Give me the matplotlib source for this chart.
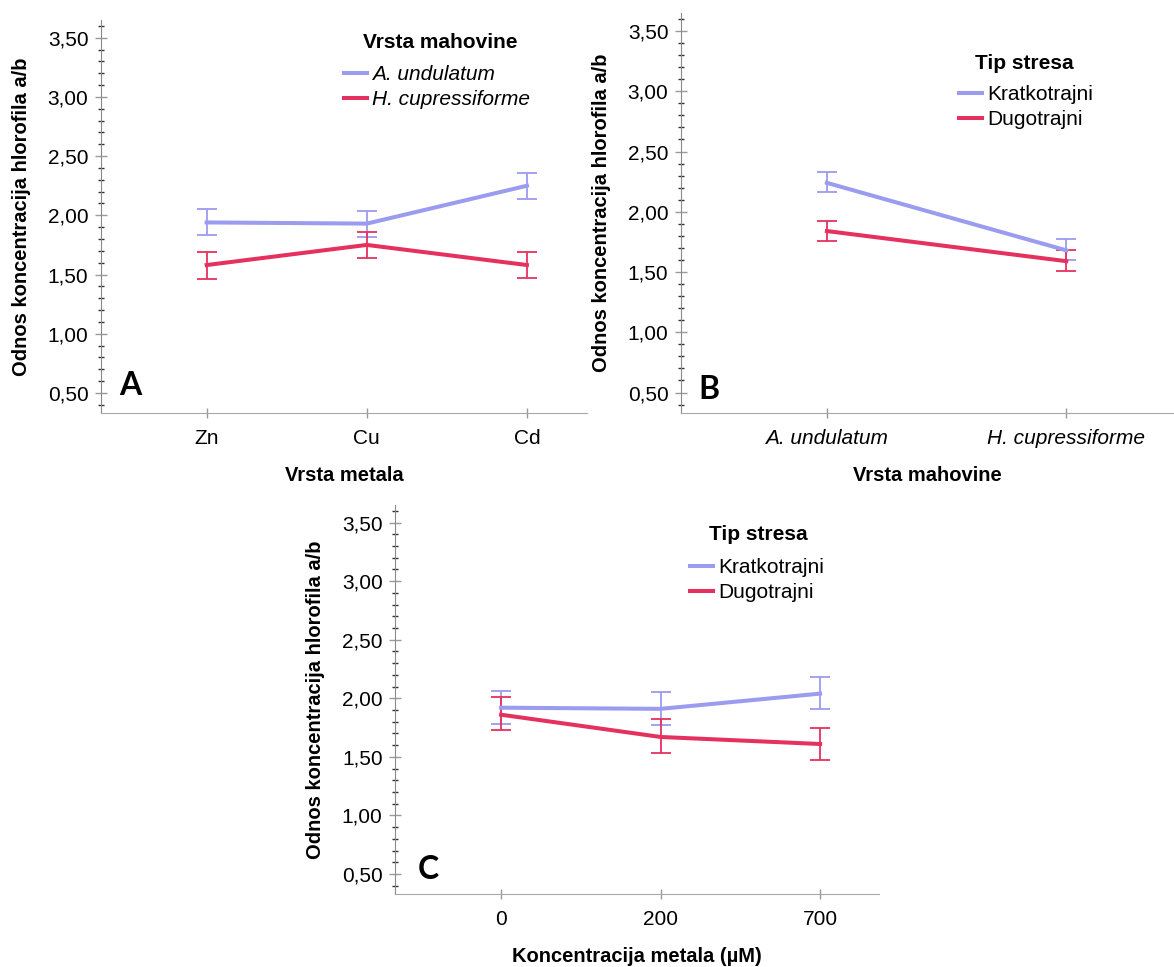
import matplotlib.pyplot as plt
from matplotlib.lines import Line2D
from matplotlib.ticker import FixedLocator, MultipleLocator, FuncFormatter

# Panel A: metal type x moss species
metali = ['Zn', 'Cu', 'Cd']
a_und_mean = [1.94, 1.93, 2.25]
a_und_low = [1.83, 1.82, 2.14]
a_und_high = [2.05, 2.04, 2.36]
h_cup_mean = [1.58, 1.75, 1.58]
h_cup_low = [1.46, 1.64, 1.47]
h_cup_high = [1.69, 1.86, 1.69]

# Panel B: moss species x stress type
mahovine = ['A. undulatum', 'H. cupressiforme']
b_krat_mean = [2.24, 1.68]
b_krat_low = [2.16, 1.60]
b_krat_high = [2.33, 1.77]
b_dug_mean = [1.84, 1.59]
b_dug_low = [1.76, 1.51]
b_dug_high = [1.92, 1.68]

# Panel C: metal concentration x stress type
koncentracije = ['0', '200', '700']
c_krat_mean = [1.92, 1.91, 2.04]
c_krat_low = [1.78, 1.77, 1.91]
c_krat_high = [2.06, 2.05, 2.18]
c_dug_mean = [1.86, 1.67, 1.61]
c_dug_low = [1.73, 1.53, 1.47]
c_dug_high = [2.01, 1.82, 1.75]

y_ticks = [0.5, 1.0, 1.5, 2.0, 2.5, 3.0, 3.5]

BLUE = '#9b9bef'
RED = '#e5315e'
GREY = '#9a9a9a'

plt.rcParams['font.family'] = 'Liberation Sans'
plt.rcParams['font.size'] = 15

fig = plt.figure(figsize=(11.74, 9.67), dpi=100)


def draw_panel(ax, cats, series, xlabel, leg_title, leg_italic, leg_anchor, title_pos,
               letter, letter_pos, xlim, cat_italic=False):
    x = list(range(len(cats)))
    handles = []
    for mean, low, high, color, label in series:
        yerr = [[m - l for m, l in zip(mean, low)], [h - m for m, h in zip(mean, high)]]
        ax.errorbar(x, mean, yerr=yerr, color=color, lw=2.9, elinewidth=1.3,
                    capsize=7, capthick=1.3)
        handles.append(Line2D([], [], color=color, lw=2.9, label=label))
    ax.set_xlim(*xlim)
    ax.set_ylim(0.33, 3.65)
    ax.spines['top'].set_visible(False)
    ax.spines['right'].set_visible(False)
    ax.spines['left'].set_color('#8a8a8a')
    ax.spines['bottom'].set_color('#a8a8a8')
    ax.yaxis.set_major_locator(FixedLocator(y_ticks))
    ax.yaxis.set_minor_locator(MultipleLocator(0.1))
    ax.yaxis.set_major_formatter(FuncFormatter(lambda v, p: f'{v:.2f}'.replace('.', ',')))
    ax.tick_params(axis='y', which='major', direction='inout', length=8, width=1,
                   color=GREY, labelsize=15, pad=5)
    ax.tick_params(axis='y', which='minor', direction='inout', length=5, width=1,
                   color='#333333')
    ax.tick_params(axis='x', which='major', direction='inout', length=7, width=1,
                   color=GREY, labelsize=15, pad=8)
    ax.set_xticks(x)
    ax.set_xticklabels(cats, style='italic' if cat_italic else 'normal')
    ax.set_xlabel(xlabel, fontweight='bold', fontsize=14.5, labelpad=13)
    ax.set_ylabel('Odnos koncentracija hlorofila a/b', fontweight='bold', fontsize=14.5,
                  labelpad=12)
    ax.legend(handles=handles, loc='upper left', bbox_to_anchor=leg_anchor, frameon=False,
              prop={'style': 'italic' if leg_italic else 'normal', 'size': 15},
              handlelength=1.1, handletextpad=0.25, labelspacing=0.3,
              borderpad=0, borderaxespad=0)
    ax.text(title_pos[0], title_pos[1], leg_title, transform=ax.transAxes,
            fontsize=15, fontweight='bold', ha='center', va='center')
    ax.text(letter_pos[0], letter_pos[1], letter, transform=ax.transAxes,
            fontsize=23, fontweight='bold', family='Lato', ha='center', va='center')


ax_a = fig.add_axes([0.086, 0.5729, 0.414, 0.4064])
draw_panel(ax_a, metali,
           [(a_und_mean, a_und_low, a_und_high, BLUE, 'A. undulatum'),
            (h_cup_mean, h_cup_low, h_cup_high, RED, 'H. cupressiforme')],
           'Vrsta metala', 'Vrsta mahovine', True, (0.50, 0.8855), (0.698, 0.942),
           'A', (0.06, 0.07), (-0.66, 2.375))

ax_b = fig.add_axes([0.580, 0.5729, 0.420, 0.4137])
draw_panel(ax_b, mahovine,
           [(b_krat_mean, b_krat_low, b_krat_high, BLUE, 'Kratkotrajni'),
            (b_dug_mean, b_dug_low, b_dug_high, RED, 'Dugotrajni')],
           'Vrsta mahovine', 'Tip stresa', False, (0.564, 0.82), (0.696, 0.8725),
           'B', (0.057, 0.058), (-0.61, 1.45), cat_italic=True)

ax_c = fig.add_axes([0.3365, 0.0755, 0.4123, 0.4023])
draw_panel(ax_c, koncentracije,
           [(c_krat_mean, c_krat_low, c_krat_high, BLUE, 'Kratkotrajni'),
            (c_dug_mean, c_dug_low, c_dug_high, RED, 'Dugotrajni')],
           'Koncentracija metala (µM)', 'Tip stresa', False, (0.61, 0.8637), (0.75, 0.923),
           'C', (0.068, 0.062), (-0.665, 2.37))

fig.savefig('out.png', dpi=100)
